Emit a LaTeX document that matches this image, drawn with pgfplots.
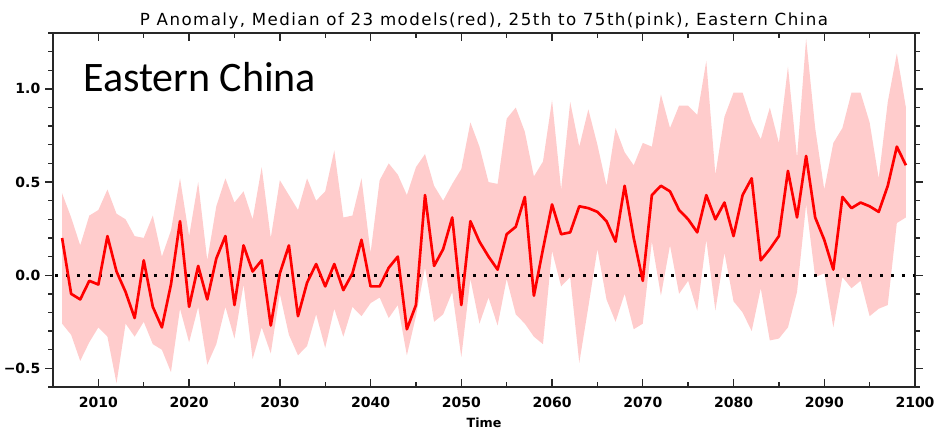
\documentclass[border=0pt]{standalone}
\usepackage{pgfplots}
\pgfplotsset{compat=1.18}
\usepackage{pgfplotstable}
\usepgfplotslibrary{fillbetween}
\usepackage{fontspec}
\setmainfont{DejaVu Sans}
\newfontfamily\dvs{DejaVu Sans}
\newfontfamily\titlefont[LetterSpace=8.6]{DejaVu Sans}
\newfontfamily\carl{Carlito}
\definecolor{bandpink}{RGB}{255,204,204}
\definecolor{axgray}{RGB}{40,40,40}

\pgfplotstableread{
year med up lo
2006 0.20 0.44 -0.26
2007 -0.10 0.31 -0.32
2008 -0.13 0.16 -0.46
2009 -0.03 0.32 -0.36
2010 -0.05 0.35 -0.28
2011 0.21 0.46 -0.33
2012 0.02 0.33 -0.58
2013 -0.09 0.30 -0.26
2014 -0.23 0.21 -0.33
2015 0.08 0.20 -0.25
2016 -0.17 0.32 -0.37
2017 -0.28 0.10 -0.40
2018 -0.05 0.24 -0.52
2019 0.29 0.52 -0.18
2020 -0.17 0.21 -0.36
2021 0.05 0.50 -0.17
2022 -0.13 0.08 -0.48
2023 0.09 0.37 -0.37
2024 0.21 0.52 -0.17
2025 -0.16 0.39 -0.34
2026 0.16 0.45 -0.05
2027 0.02 0.30 -0.45
2028 0.08 0.58 -0.28
2029 -0.27 0.20 -0.42
2030 0.01 0.51 -0.10
2031 0.16 0.43 -0.32
2032 -0.22 0.35 -0.43
2033 -0.04 0.52 -0.38
2034 0.06 0.40 -0.21
2035 -0.06 0.45 -0.39
2036 0.06 0.67 -0.18
2037 -0.08 0.31 -0.33
2038 0.01 0.32 -0.17
2039 0.19 0.52 -0.22
2040 -0.06 0.12 -0.15
2041 -0.06 0.51 -0.12
2042 0.04 0.60 -0.23
2043 0.10 0.54 -0.16
2044 -0.29 0.43 -0.43
2045 -0.16 0.58 -0.22
2046 0.43 0.65 0.04
2047 0.05 0.48 -0.25
2048 0.14 0.40 -0.21
2049 0.31 0.49 -0.09
2050 -0.16 0.57 -0.44
2051 0.29 0.82 -0.02
2052 0.18 0.69 -0.26
2053 0.10 0.50 -0.12
2054 0.03 0.49 -0.27
2055 0.22 0.84 -0.02
2056 0.26 0.90 -0.21
2057 0.42 0.77 -0.26
2058 -0.11 0.53 -0.33
2059 0.14 0.61 -0.37
2060 0.38 0.94 0.13
2061 0.22 0.46 -0.06
2062 0.23 0.93 -0.01
2063 0.37 0.69 -0.47
2064 0.36 0.89 -0.17
2065 0.34 0.70 0.14
2066 0.29 0.48 -0.13
2067 0.18 0.79 -0.25
2068 0.48 0.66 -0.10
2069 0.20 0.59 -0.29
2070 -0.03 0.71 -0.26
2071 0.43 0.69 0.18
2072 0.48 0.97 -0.11
2073 0.45 0.79 0.16
2074 0.35 0.91 -0.10
2075 0.30 0.91 -0.03
2076 0.23 0.86 -0.19
2077 0.43 1.15 0.19
2078 0.30 0.54 -0.19
2079 0.39 0.85 0.12
2080 0.21 0.98 -0.14
2081 0.43 0.98 -0.20
2082 0.52 0.83 -0.30
2083 0.08 0.73 -0.07
2084 0.14 0.90 -0.35
2085 0.21 0.71 -0.34
2086 0.56 1.12 -0.28
2087 0.31 0.63 -0.09
2088 0.64 1.27 0.38
2089 0.31 0.79 -0.01
2090 0.19 0.46 0.01
2091 0.03 0.71 -0.28
2092 0.42 0.79 -0.01
2093 0.36 0.98 -0.07
2094 0.39 0.98 -0.03
2095 0.37 0.82 -0.22
2096 0.34 0.52 -0.18
2097 0.48 0.93 -0.16
2098 0.69 1.19 0.28
2099 0.59 0.90 0.31
}\datatable

\begin{document}
\begin{tikzpicture}
\begin{axis}[
  at={(39.75pt,31.5pt)}, anchor=south west,
  scale only axis, width=646.5pt, height=265.5pt,
  xmin=2005, xmax=2100, ymin=-0.6, ymax=1.3,
  xtick={2010,2020,...,2100},
  xticklabels={2010,2020,2030,2040,2050,2060,2070,2080,2090,2100},
  minor xtick={2005,2015,...,2095},
  ytick={-0.5,0,0.5,1},
  yticklabels={−0.5,0.0,0.5,1.0},
  minor ytick={-0.6,-0.4,-0.3,-0.2,-0.1,0.1,0.2,0.3,0.4,0.6,0.7,0.8,0.9,1.1,1.2,1.3},
  xtick align=inside, ytick align=outside,
  tick pos=both, xticklabel pos=lower, yticklabel pos=left,
  major tick length=6pt, minor tick length=3.75pt,
  axis line style={axgray, line width=1.4pt},
  tick style={axgray, line width=1pt},
  /pgf/number format/assume math mode=true,
  xticklabel style={font=\dvs\bfseries\fontsize{10.5}{12}\selectfont, yshift=-4pt},
  yticklabel style={font=\dvs\bfseries\fontsize{10.5}{12}\selectfont},
  clip mode=individual,
]
\addplot[name path=up, draw=none] table[x=year, y=up] {\datatable};
\addplot[name path=lo, draw=none] table[x=year, y=lo] {\datatable};
\addplot[bandpink, draw=none] fill between[of=up and lo];
\addplot[black, line width=2.4pt, dash pattern=on 2.3pt off 5.95pt] coordinates {(2005.2,0) (2100,0)};
\addplot[red, line width=2pt, line join=round] table[x=year, y=med] {\datatable};
\node[anchor=base west, inner sep=0pt, font=\carl\fontsize{31.5}{36}\selectfont] at (axis cs:2008.3,0.988) {Eastern China};
\node[anchor=base, inner sep=0pt, font=\titlefont\fontsize{12.5}{15}\selectfont] at (rel axis cs:0.5,1) [yshift=6pt] {P Anomaly, Median of 23 models(red), 25th to 75th(pink), Eastern China};
\node[anchor=base, inner sep=0pt, font=\dvs\bfseries\fontsize{9.5}{11}\selectfont] at (rel axis cs:0.5,0) [yshift=-30pt] {Time};
\end{axis}
\pgfresetboundingbox
\path[use as bounding box] (0,0) rectangle (702.75pt,321.75pt);
\end{tikzpicture}
\end{document}
